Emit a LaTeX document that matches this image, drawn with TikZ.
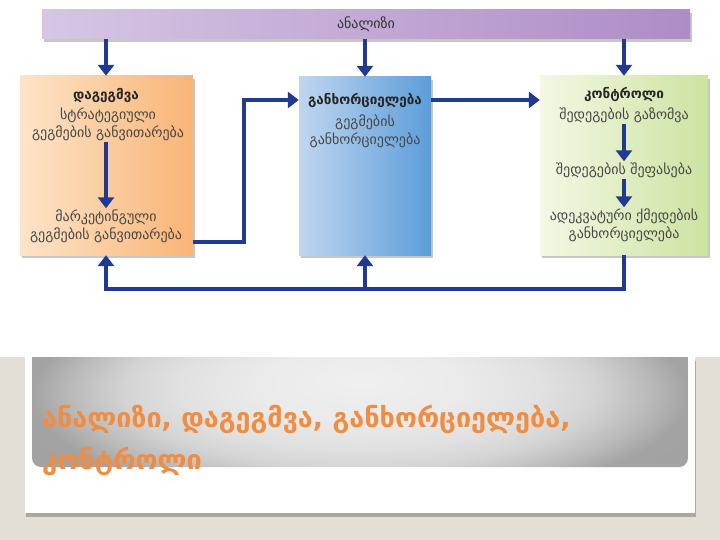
\documentclass[tikz,border=0pt]{standalone}
\usepackage{fontspec}
\setmainfont{DejaVu Sans}
\usetikzlibrary{arrows.meta,shadows}
\definecolor{arrowblue}{RGB}{33,58,145}
\definecolor{slidebeige}{RGB}{228,223,213}
\definecolor{titleorange}{RGB}{241,141,64}
\definecolor{bodygray}{RGB}{70,70,70}
\pgfdeclareradialshading{glow}{\pgfpoint{0bp}{7bp}}{color(0bp)=(black!6); color(8bp)=(black!8); color(14bp)=(black!12); color(18bp)=(black!17); color(22bp)=(black!27); color(25bp)=(black!36); color(50bp)=(black!40)}
\begin{document}
\begin{tikzpicture}[x=1pt,y=-1pt,
  flow/.style={line width=4.5pt,draw=arrowblue,-{Triangle[width=16pt,length=11pt]}},
  box/.style={rectangle,inner sep=0pt,drop shadow={shadow xshift=2pt,shadow yshift=-3pt,fill=black,opacity=.22}},
  head/.style={font=\bfseries\fontsize{13.5}{16}\selectfont,text=black!85,inner sep=0pt},
  body/.style={font=\fontsize{14}{18}\selectfont,text=bodygray,align=center,inner sep=1pt}]
\useasboundingbox (0,0) rectangle (720,540);
\fill[slidebeige] (0,0) rectangle (720,540);
\fill[white] (0,0) rectangle (720,357);
\fill[white,drop shadow={shadow xshift=1pt,shadow yshift=-4pt,fill=black,opacity=.25}] (25,357) rectangle (695,513);
\begin{scope}
\clip (32,357) rectangle (688,470);
\clip[rounded corners=9pt] (32,330) rectangle (688,467);
\shade[shading=glow] (32,300) rectangle (688,520);
\end{scope}
\node[anchor=west,align=left,text=titleorange,font=\bfseries\fontsize{27}{42}\selectfont,inner sep=0pt] (title) at (42,440) {ანალიზი, დაგეგმვა, განხორციელება,\\კონტროლი};

\coordinate (c1) at (106,0);
\coordinate (c2) at (365,0);
\coordinate (c3) at (624,0);
\coordinate (mid) at (0,100);
\coordinate (bot) at (0,289);

\node[box,shade,left color={rgb,255:red,214;green,198;blue,228},right color={rgb,255:red,174;green,140;blue,198},minimum width=648pt,minimum height=29pt,font=\fontsize{14}{16}\selectfont,text=black!80] (anal) at (366,24.5) {ანალიზი};
\node[box,shade,left color={rgb,255:red,253;green,228;blue,200},right color={rgb,255:red,249;green,180;blue,118},minimum width=173pt,minimum height=179pt] (plan) at (106.5,165.5) {};
\node[box,shade,left color={rgb,255:red,192;green,214;blue,240},right color={rgb,255:red,92;green,157;blue,218},minimum width=132pt,minimum height=178pt] (impl) at (365,166) {};
\node[box,shade,left color={rgb,255:red,243;green,248;blue,228},right color={rgb,255:red,204;green,227;blue,160},minimum width=168pt,minimum height=179pt] (ctrl) at (624,165.5) {};

\node[head] (planh) at (106,95) {დაგეგმვა};
\node[body] (strat) at (108,124) {სტრატეგიული\\გეგმების განვითარება};
\node[body] (mkt) at (106,226) {მარკეტინგული\\გეგმების განვითარება};
\node[head] (implh) at (365,100) {განხორციელება};
\node[body] (implt) at (365,131) {გეგმების\\განხორციელება};
\node[head] (ctrlh) at (624,94) {კონტროლი};
\node[body] (meas) at (624,115) {შედეგების გაზომვა};
\node[body] (eval) at (624,170) {შედეგების შეფასება};
\node[body] (act) at (624,225) {ადეკვატური ქმედების\\განხორციელება};

\draw[flow] (anal.south -| c1) -- (plan.north -| c1);
\draw[flow] (anal.south -| c2) -- (impl.north -| c2);
\draw[flow] (anal.south -| c3) -- (ctrl.north -| c3);
\draw[flow] (strat.south -| c1) -- (mkt.north -| c1);
\draw[flow] (meas.south) -- (eval.north);
\draw[flow] (eval.south) -- (act.north);
\draw[flow] ([yshift=13pt]plan.south east) -- ++(51pt,0) |- (impl.west |- mid);
\draw[flow] (impl.east |- mid) -- (ctrl.west |- mid);
\draw[flow] (ctrl.south -| c3) -- (c3 |- bot) -| (plan.south -| c1);
\draw[flow] (c2 |- bot) -- (impl.south -| c2);
\end{tikzpicture}
\end{document}
